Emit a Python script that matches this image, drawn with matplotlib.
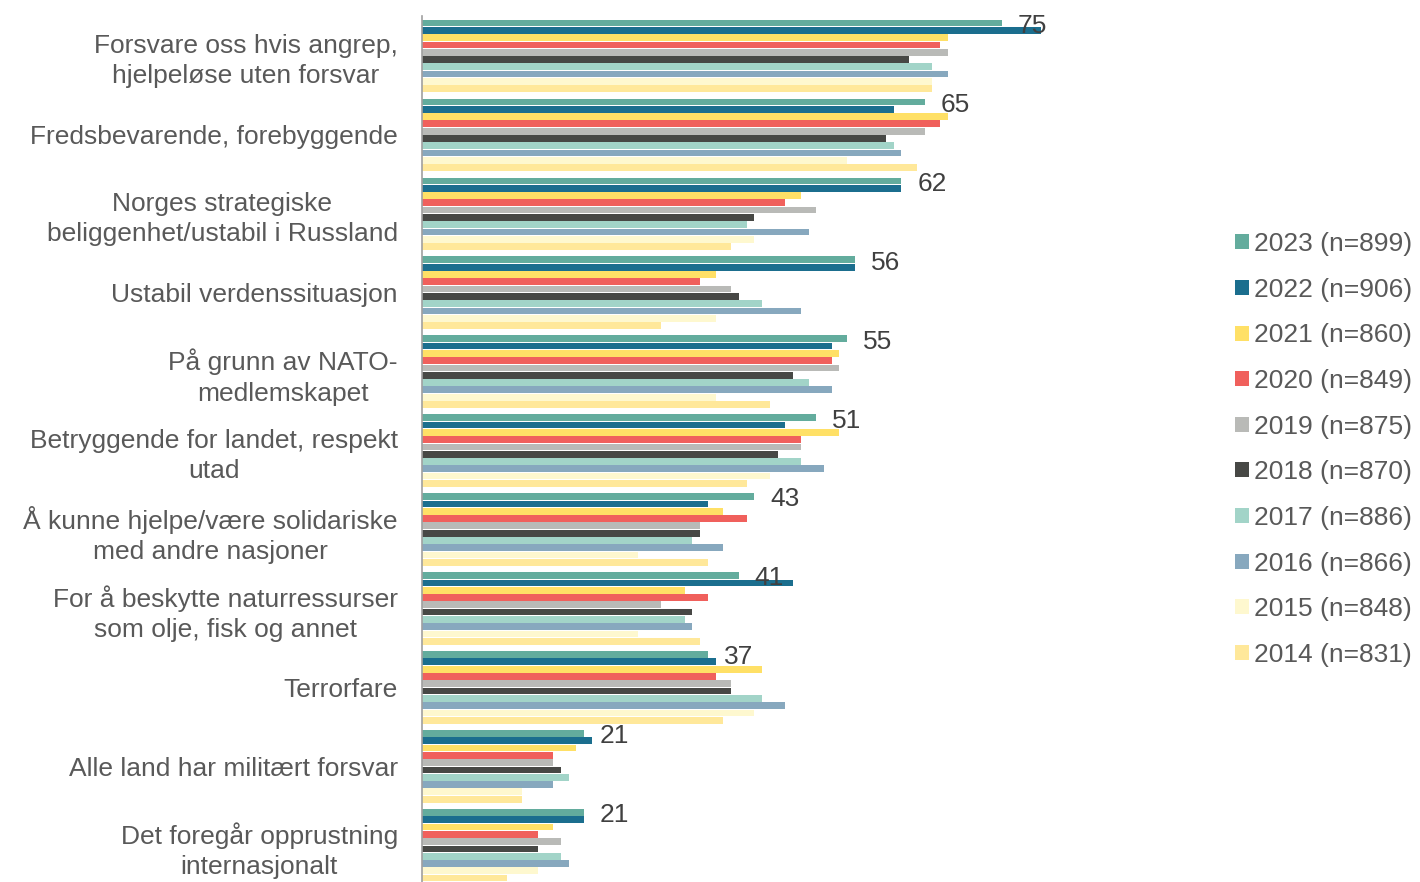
import matplotlib
matplotlib.use("Agg")
import matplotlib.pyplot as plt
import matplotlib.transforms as mtransforms
import numpy as np

plt.rcParams['font.family'] = ['Liberation Sans', 'DejaVu Sans']

categories = [
    "Forsvare oss hvis angrep,\nhjelpeløse uten forsvar",
    "Fredsbevarende, forebyggende",
    "Norges strategiske\nbeliggenhet/ustabil i Russland",
    "Ustabil verdenssituasjon",
    "På grunn av NATO-\nmedlemskapet",
    "Betryggende for landet, respekt\nutad",
    "Å kunne hjelpe/være solidariske\nmed andre nasjoner",
    "For å beskytte naturressurser\nsom olje, fisk og annet",
    "Terrorfare",
    "Alle land har militært forsvar",
    "Det foregår opprustning\ninternasjonalt",
]

series_labels = ["2023 (n=899)", "2022 (n=906)", "2021 (n=860)", "2020 (n=849)",
                 "2019 (n=875)", "2018 (n=870)", "2017 (n=886)", "2016 (n=866)",
                 "2015 (n=848)", "2014 (n=831)"]

v2023 = [75, 65, 62, 56, 55, 51, 43, 41, 37, 21, 21]
v2022 = [80, 61, 62, 56, 53, 47, 37, 48, 38, 22, 21]
v2021 = [68, 68, 49, 38, 54, 54, 39, 34, 44, 20, 17]
v2020 = [67, 67, 47, 36, 53, 49, 42, 37, 38, 17, 15]
v2019 = [68, 65, 51, 40, 54, 49, 36, 31, 40, 17, 18]
v2018 = [63, 60, 43, 41, 48, 46, 36, 35, 40, 18, 15]
v2017 = [66, 61, 42, 44, 50, 49, 35, 34, 44, 19, 18]
v2016 = [68, 62, 50, 49, 53, 52, 39, 35, 47, 17, 19]
v2015 = [66, 55, 43, 38, 38, 45, 28, 28, 43, 13, 15]
v2014 = [66, 64, 40, 31, 45, 42, 37, 36, 39, 13, 11]

series = [v2023, v2022, v2021, v2020, v2019, v2018, v2017, v2016, v2015, v2014]
colors = ["#63AC9D", "#1B6E8E", "#FFE066", "#F0605C", "#B9BAB7",
          "#474845", "#A2D4C8", "#87A8BE", "#FEF8CF", "#FFE89A"]

W, H = 1420, 882
fig = plt.figure(figsize=(W / 100, H / 100), dpi=100)
ax_left = 421.5 / W
ax_w = 774 / W
top_px = 16.4
pitch = 78.94
bottom_px = top_px + 11 * pitch
ax = fig.add_axes([ax_left, 1 - bottom_px / H, ax_w, (bottom_px - top_px) / H])

n = len(series)
step = 0.0924
y = np.arange(len(categories))
handles = []
for j, (vals, col, lab) in enumerate(zip(series, colors, series_labels)):
    b = ax.barh(y + (j - (n - 1) / 2) * step, vals, height=0.086, color=col,
                label=lab, linewidth=0)
    handles.append(b)

for i, v in enumerate(v2023):
    ax.text(v + 2.05, i + (0 - (n - 1) / 2) * step + 0.035, f"{v}", ha='left',
            va='center', fontsize=19, color='#404040')

ax.set_xlim(0, 100)
ax.set_ylim(len(categories) - 0.5, -0.5)
ax.set_yticks(y)
ax.set_yticklabels(categories, fontsize=19, color='#595959')
shift = mtransforms.ScaledTranslation(0, 3 / 100, fig.dpi_scale_trans)
for t in ax.get_yticklabels():
    t.set_multialignment('center')
    t.set_linespacing(1.32)
    if "\n" in t.get_text():
        t.set_transform(t.get_transform() + shift)
ax.tick_params(axis='y', length=0, pad=17)
ax.set_xticks([])
for s in ['top', 'right', 'bottom']:
    ax.spines[s].set_visible(False)
ax.spines['left'].set_color('#A0A0A0')
ax.spines['left'].set_linewidth(1.2)

leg = fig.legend(handles=handles, labels=series_labels, loc='center left',
                 bbox_to_anchor=(1235 / W, 1 - 449.5 / H), frameon=False,
                 fontsize=19, labelcolor='#595959', handlelength=0.53,
                 handleheight=0.5, handletextpad=0.2, labelspacing=0.82,
                 borderpad=0, borderaxespad=0)

fig.savefig("out.png", dpi=100)
